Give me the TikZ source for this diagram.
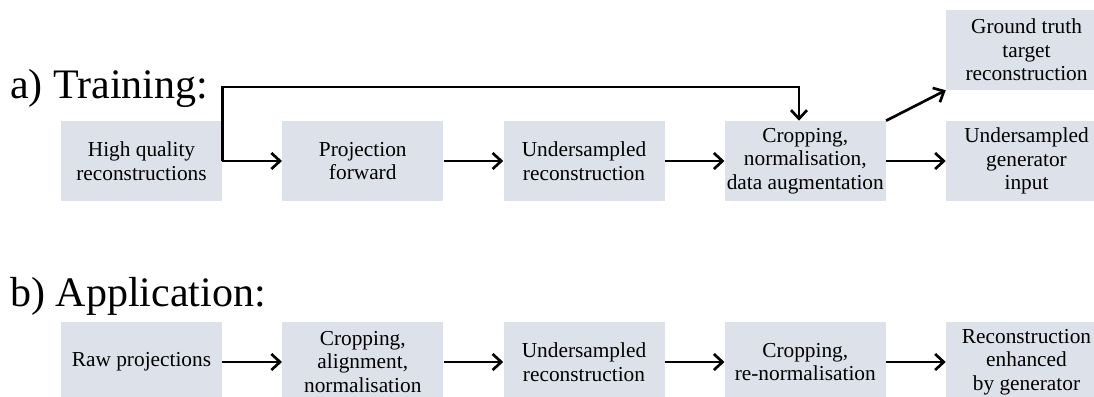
\documentclass[tikz,border=0pt]{standalone}
\usepackage{fontspec}
\setmainfont{Liberation Serif}
\usetikzlibrary{arrows.meta}
\definecolor{boxfill}{RGB}{221,225,234}
\begin{document}
\begin{tikzpicture}[x=0.75pt,y=-0.75pt,
  stepbox/.style={fill=boxfill, minimum width=120.75pt, minimum height=60pt,
    inner sep=0pt, align=center, font=\fontsize{16}{17.6}\selectfont},
  heading/.style={anchor=base west, inner sep=0pt, font=\fontsize{31.5}{36}\selectfont},
  flow/.style={line width=2pt, -{Straight Barb[length=6.5pt,width=12pt]}}]
\useasboundingbox (0,0) rectangle (1094,396);
\clip (0,0) rectangle (1094,396);

% headings
\node[heading] (ta) at (10,98) {a) Training:};
\node[heading] (tb) at (10,306) {b) Application:};

% training pipeline
\node[stepbox] (a1) at (141.5,161) {High quality\\reconstructions};
\node[stepbox] (a2) at (362.75,161) {Projection\\forward};
\node[stepbox] (a3) at (584,161) {Undersampled\\reconstruction};
\node[stepbox] (a4) at (805.25,161) {Cropping,\\normalisation,\\data augmentation};
\node[stepbox] (a5) at (1026.5,50) {Ground truth\\target\\reconstruction};
\node[stepbox] (a6) at (1026.5,161) {Undersampled\\generator\\input};

% application pipeline
\node[stepbox] (b1) at (141.5,362) {Raw projections};
\node[stepbox] (b2) at (362.75,362) {Cropping,\\alignment,\\normalisation};
\node[stepbox] (b3) at (584,362) {Undersampled\\reconstruction};
\node[stepbox] (b4) at (805.25,362) {Cropping,\\re-normalisation};
\node[stepbox] (b5) at (1026.5,362) {Reconstruction\\enhanced\\by generator};

% training connectors
\coordinate (loop) at (799,87);
\draw[flow] (a1.east) -- (a2.west);
\draw[flow] (a1.east) |- (loop) -- (loop |- a4.north);
\draw[flow] (a2.east) -- (a3.west);
\draw[flow] (a3.east) -- (a4.west);
\draw[flow] (a4.north east) -- (a5.south west);
\draw[flow] (a4.east) -- (a6.west);

% application connectors
\draw[flow] (b1.east) -- (b2.west);
\draw[flow] (b2.east) -- (b3.west);
\draw[flow] (b3.east) -- (b4.west);
\draw[flow] (b4.east) -- (b5.west);
\end{tikzpicture}
\end{document}
